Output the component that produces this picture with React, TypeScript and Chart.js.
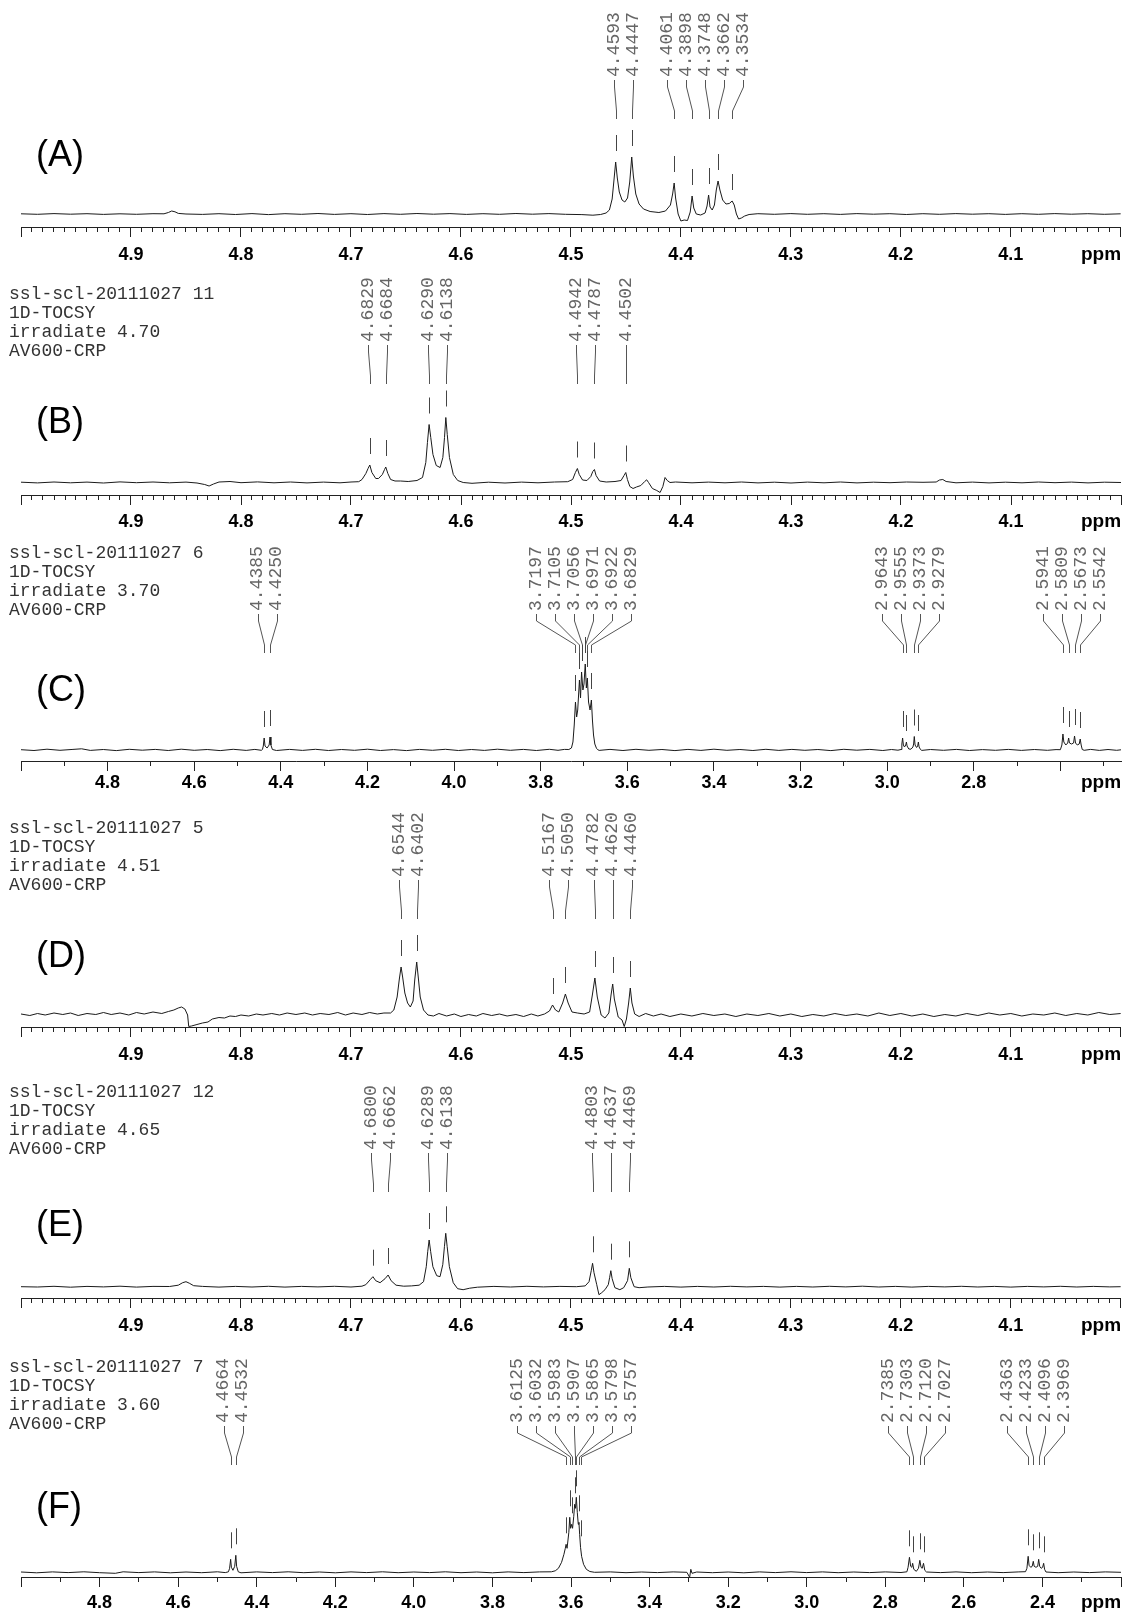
import React, { useEffect, useRef } from 'react';
import { Chart, registerables } from 'chart.js';
Chart.register(...registerables);

// ---------- DATA (ppm, intensity) ----------
const specA = [
  5.0,0.2, 4.985,-0.3, 4.97,0.4, 4.955,-0.2, 4.94,0.3, 4.925,-0.4, 4.91,0.2, 4.895,-0.3, 4.88,0.3, 4.87,0.2,
  4.866,1.5, 4.863,3, 4.86,2.2, 4.857,0.6, 4.85,0, 4.835,-0.4, 4.82,0.3, 4.805,-0.5, 4.79,0.4, 4.775,-0.6,
  4.76,0.3, 4.745,-0.3, 4.73,0.5, 4.715,-0.4, 4.7,0.3, 4.685,-0.5, 4.67,0.4, 4.655,-0.3, 4.64,0.5, 4.625,-0.2,
  4.61,0.4, 4.595,-0.4, 4.58,0.3, 4.565,-0.3, 4.55,0.5, 4.535,-0.2, 4.52,0.4, 4.505,-0.3, 4.49,-0.6, 4.48,-1.2,
  4.473,-0.5, 4.468,1, 4.465,4, 4.4625,15, 4.461,32, 4.4593,52, 4.4578,36, 4.456,22, 4.4535,14, 4.451,12,
  4.4485,16, 4.4465,32, 4.4447,57, 4.4432,38, 4.441,20, 4.438,10, 4.434,5, 4.428,2.5, 4.42,1.5, 4.414,3,
  4.4095,9, 4.4075,20, 4.4061,31, 4.4048,16, 4.4025,0, 4.4,-7, 4.397,-6, 4.394,-6.5, 4.3915,2, 4.3898,18,
  4.3883,6, 4.386,0, 4.382,-1, 4.378,1, 4.3762,8, 4.3748,19, 4.3735,7, 4.3715,4, 4.3695,9, 4.3678,24,
  4.3662,33, 4.3645,24, 4.362,14, 4.359,10, 4.356,10.5, 4.3534,13, 4.3515,9, 4.3495,0, 4.3475,-5, 4.345,-4,
  4.342,-2, 4.338,-0.5, 4.33,0.3, 4.315,-0.3, 4.3,0.4, 4.285,-0.3, 4.27,0.3, 4.255,-0.4, 4.24,0.4, 4.225,-0.2,
  4.21,0.3, 4.195,-0.5, 4.18,0.3, 4.165,-0.3, 4.15,0.4, 4.135,-0.2, 4.12,0.3, 4.105,-0.4, 4.09,0.3, 4.075,-0.3,
  4.06,0.4, 4.045,-0.2, 4.03,0.3, 4.015,-0.3, 4.0,0.2,
];
const peaksA = [4.4593, 4.4447, 4.4061, 4.3898, 4.3748, 4.3662, 4.3534];

const specB = [
  5.0,0.3, 4.985,-0.4, 4.97,0.5, 4.955,-0.3, 4.94,0.4, 4.925,-0.5, 4.91,0.6, 4.895,-0.2, 4.88,0.5, 4.865,-0.3,
  4.85,0.4, 4.84,-0.5, 4.833,-2, 4.829,-3.5, 4.825,-1.5, 4.82,0.5, 4.81,1, 4.8,-0.2, 4.785,0.6, 4.77,-0.3,
  4.755,0.5, 4.74,-0.4, 4.725,0.4, 4.71,-0.3, 4.7,0.5, 4.693,0.8, 4.69,3, 4.6865,9, 4.6845,14, 4.6829,17.5,
  4.681,10, 4.6775,4, 4.675,4, 4.6715,8, 4.6695,13, 4.6684,15.5, 4.6665,9, 4.664,3, 4.66,1.5, 4.655,1.5,
  4.648,1, 4.64,2, 4.635,5, 4.632,20, 4.6305,40, 4.629,58, 4.6275,45, 4.6255,28, 4.6225,17, 4.619,15,
  4.6165,25, 4.615,45, 4.6138,65, 4.6125,48, 4.6105,25, 4.607,8, 4.603,2, 4.598,0, 4.59,-0.8, 4.575,0.3,
  4.56,-0.5, 4.545,0.4, 4.53,-0.3, 4.515,0.5, 4.503,0.8, 4.4985,3, 4.496,10, 4.4942,14, 4.4925,8, 4.4895,2.5,
  4.4855,2, 4.482,6, 4.4802,11, 4.4787,13, 4.4772,7, 4.474,1.5, 4.468,0.5, 4.46,1, 4.4545,2, 4.4518,7,
  4.4502,10, 4.4487,3, 4.4465,-4, 4.4436,-6, 4.4405,-4.5, 4.4365,-3, 4.433,1, 4.4312,2.7, 4.4295,0, 4.426,-6,
  4.422,-8, 4.419,-10, 4.4165,-4, 4.4145,5, 4.4125,2, 4.41,0, 4.405,0.5, 4.39,-0.3, 4.375,0.4, 4.36,-0.3,
  4.345,0.5, 4.33,-0.4, 4.315,0.3, 4.3,-0.5, 4.285,0.4, 4.27,-0.3, 4.255,0.5, 4.24,-0.4, 4.225,0.3, 4.21,-0.2,
  4.195,0.5, 4.18,0.2, 4.168,0.5, 4.165,2.5, 4.162,3, 4.159,1, 4.15,-0.3, 4.135,0.4, 4.12,-0.4, 4.105,0.3,
  4.09,-0.3, 4.075,0.5, 4.06,-0.2, 4.045,0.4, 4.03,-0.4, 4.015,0.3, 4.0,0,
];
const peaksB = [4.6829, 4.6684, 4.6290, 4.6138, 4.4942, 4.4787, 4.4502];

const specC = [
  5.0,0.3, 4.97,-0.5, 4.94,0.8, 4.91,-0.3, 4.88,0.6, 4.86,1.2, 4.84,-0.4, 4.81,0.5, 4.78,-0.6, 4.75,0.7,
  4.72,-0.2, 4.69,0.6, 4.66,-0.5, 4.63,0.8, 4.6,-0.3, 4.57,0.5, 4.54,-0.6, 4.51,0.7, 4.48,-0.4, 4.46,0.6,
  4.445,-0.3, 4.4425,0.5, 4.4405,4, 4.4385,12, 4.4365,4, 4.4318,2, 4.427,5, 4.425,13, 4.423,5, 4.4195,0.5,
  4.41,-0.5, 4.38,0.6, 4.35,-0.4, 4.32,0.7, 4.29,-0.5, 4.26,0.5, 4.23,-0.3, 4.2,0.8, 4.17,-0.5, 4.14,0.4,
  4.11,-0.6, 4.08,0.6, 4.05,-0.3, 4.02,0.7, 3.99,-0.5, 3.96,0.5, 3.93,-0.4, 3.9,0.8, 3.87,-0.3, 3.84,0.6,
  3.81,-0.5, 3.78,0.7, 3.76,-0.3, 3.745,0.6, 3.735,0.5, 3.729,2, 3.7255,8, 3.7225,25, 3.7197,48, 3.717,33,
  3.7145,40, 3.7105,70, 3.708,52, 3.7056,78, 3.7025,60, 3.7,66, 3.6971,86, 3.6945,62, 3.6922,72, 3.6895,48,
  3.686,40, 3.6829,50, 3.6805,30, 3.678,15, 3.675,6, 3.671,1.5, 3.668,0.3,
  3.665,-0.4, 3.64,0.6, 3.61,-0.5, 3.58,0.7, 3.55,-0.3, 3.52,0.5, 3.49,-0.6, 3.46,0.6, 3.43,-0.4, 3.4,0.8,
  3.37,-0.3, 3.34,0.5, 3.31,-0.5, 3.28,0.7, 3.25,-0.4, 3.22,0.6, 3.19,-0.3, 3.16,0.5, 3.13,-0.6, 3.1,0.7,
  3.07,-0.2, 3.04,0.6, 3.01,-0.5, 2.99,0.5, 2.975,-0.2, 2.968,0.5, 2.966,6, 2.9643,12, 2.9625,5, 2.96,3,
  2.957,5, 2.9555,8, 2.954,4, 2.95,1, 2.945,0.8, 2.9405,3, 2.9388,6, 2.9373,13.5, 2.9355,5, 2.932,2.5,
  2.9295,4, 2.9279,8, 2.9262,3, 2.923,0.5, 2.92,-0.4, 2.9,0.5, 2.87,-0.3, 2.84,0.6, 2.81,-0.5, 2.78,0.4,
  2.75,-0.3, 2.72,0.6, 2.69,-0.4, 2.66,0.5, 2.63,-0.3, 2.61,0.4, 2.6,0.3, 2.5965,5, 2.5941,16, 2.592,8,
  2.5875,5, 2.583,7, 2.5809,12, 2.579,7, 2.5741,6, 2.5695,7, 2.5673,14, 2.565,7, 2.5608,5, 2.5565,6,
  2.5542,11, 2.552,5, 2.5495,0.5, 2.545,-0.3, 2.53,0.6, 2.51,-0.4, 2.49,0.5, 2.47,-0.3, 2.46,0.2,
];
const peaksC = [4.4385, 4.4250, 3.7197, 3.7105, 3.7056, 3.6971, 3.6922, 3.6829, 2.9643, 2.9555, 2.9373, 2.9279, 2.5941, 2.5809, 2.5673, 2.5542];

const specD = [
  5.0,1, 4.992,-0.5, 4.985,1.5, 4.978,0, 4.97,2, 4.962,0.5, 4.955,2, 4.948,-0.5, 4.94,1.5, 4.932,0.5,
  4.925,2.5, 4.918,0.5, 4.91,2, 4.902,0, 4.895,2.5, 4.888,1, 4.88,3, 4.872,1.5, 4.866,3.5, 4.861,5,
  4.857,7, 4.854,8, 4.851,6, 4.8485,0, 4.8475,-11.5, 4.845,-11, 4.84,-9.5, 4.835,-8, 4.83,-7, 4.826,-4,
  4.82,-2.5, 4.815,-3, 4.81,-1, 4.805,-1.5, 4.8,0, 4.793,-1, 4.786,1, 4.78,0, 4.772,1.5, 4.765,0,
  4.758,2, 4.75,0.5, 4.742,2, 4.735,0, 4.728,1.5, 4.72,0.5, 4.712,2.5, 4.705,0, 4.698,2, 4.69,0.5,
  4.683,2.5, 4.676,1, 4.67,2, 4.664,2, 4.661,5, 4.658,18, 4.656,36, 4.6544,48, 4.653,38, 4.651,22,
  4.6485,12, 4.646,8, 4.6435,14, 4.642,35, 4.6402,53, 4.6388,38, 4.637,18, 4.634,5, 4.63,0, 4.625,-1,
  4.62,1.5, 4.613,-1, 4.606,1, 4.6,-1.5, 4.593,0.5, 4.586,-1, 4.58,1.5, 4.572,-0.5, 4.565,1, 4.558,-1,
  4.55,0.5, 4.543,-1.5, 4.536,1, 4.53,-1, 4.524,1, 4.5195,4, 4.5167,10, 4.514,5, 4.511,3, 4.5075,12,
  4.505,21, 4.5025,12, 4.499,3, 4.494,2, 4.488,1, 4.483,3, 4.4805,20, 4.4782,37, 4.476,18, 4.4725,0,
  4.469,-3, 4.4655,2, 4.4635,20, 4.462,31, 4.4605,16, 4.457,-2, 4.4535,-5, 4.4515,-11.5, 4.4495,-4, 4.4475,12,
  4.446,27, 4.4445,12, 4.442,1, 4.438,-1.5, 4.432,1.5, 4.425,-1, 4.418,1, 4.41,-1.5, 4.4,1, 4.39,-1,
  4.38,1.5, 4.37,-0.5, 4.36,1, 4.35,-1.5, 4.34,1, 4.33,-0.5, 4.32,1.5, 4.31,-1, 4.3,1, 4.29,-1.5,
  4.28,0.5, 4.27,-1, 4.26,1.5, 4.25,-0.5, 4.24,1, 4.23,-1, 4.22,2, 4.21,-0.5, 4.2,1.5, 4.19,-1,
  4.18,1, 4.17,-1.5, 4.16,0.5, 4.15,-1, 4.14,1.5, 4.13,-0.5, 4.12,2, 4.11,0, 4.1,1.5, 4.09,-1,
  4.08,1, 4.07,0, 4.06,2, 4.05,-0.5, 4.04,1.5, 4.03,0, 4.02,2.5, 4.01,0.5, 4.0,1.5,
];
const peaksD = [4.6544, 4.6402, 4.5167, 4.5050, 4.4782, 4.4620, 4.4460];

const specE = [
  5.0,0, 4.985,-0.3, 4.97,0.4, 4.955,-0.5, 4.94,0.3, 4.925,-0.2, 4.91,0.5, 4.895,-0.4, 4.88,0.3, 4.865,0.2,
  4.857,1.5, 4.853,4, 4.85,5, 4.847,3.5, 4.843,1, 4.835,0.3, 4.82,-0.4, 4.805,0.3, 4.79,-0.3, 4.775,0.4,
  4.76,-0.4, 4.745,0.3, 4.73,-0.2, 4.715,0.4, 4.7,-0.3, 4.69,0.5, 4.6865,2, 4.6825,7, 4.68,10, 4.6775,6,
  4.6735,4, 4.669,8, 4.6662,11.7, 4.6635,6, 4.659,1.5, 4.652,0.5, 4.645,0.8, 4.638,1.5, 4.634,5, 4.6315,20,
  4.6302,35, 4.6289,46.7, 4.6275,35, 4.6255,20, 4.622,11, 4.619,10, 4.6165,22, 4.615,40, 4.6138,53.4, 4.6125,40,
  4.6105,20, 4.607,4, 4.603,-2, 4.598,-3, 4.592,-1.5, 4.585,-0.5, 4.57,0.3, 4.555,-0.3, 4.54,0.4, 4.525,-0.2,
  4.51,0.3, 4.495,0, 4.487,0.8, 4.4835,5, 4.4815,16, 4.4803,23.4, 4.479,14, 4.4765,2, 4.4745,-8, 4.472,-6,
  4.469,-3, 4.466,2, 4.4648,9, 4.4637,16, 4.4625,8, 4.46,-1, 4.4555,-3, 4.452,-1, 4.4485,6, 4.4469,18.4,
  4.4455,9, 4.4425,0, 4.438,-1, 4.43,-0.3, 4.415,0.3, 4.4,-0.4, 4.385,0.3, 4.37,-0.3, 4.355,0.4, 4.34,-0.2,
  4.325,0.3, 4.31,-0.4, 4.295,0.3, 4.28,-0.3, 4.265,0.4, 4.25,-0.2, 4.235,0.5, 4.22,-0.3, 4.205,0.3, 4.19,-0.4,
  4.175,0.3, 4.16,-0.2, 4.145,0.4, 4.13,-0.3, 4.115,0.3, 4.1,-0.4, 4.085,0.3, 4.07,-0.2, 4.055,0.4, 4.04,-0.3,
  4.025,0.3, 4.01,-0.2, 4.0,0,
];
const peaksE = [4.6800, 4.6662, 4.6289, 4.6138, 4.4803, 4.4637, 4.4469];

const specF = [
  5.0,0.3, 4.96,-0.5, 4.92,0.4, 4.88,-0.3, 4.84,0.5, 4.8,-0.4, 4.76,-1, 4.74,0.5, 4.7,-0.3, 4.66,0.4,
  4.62,-0.5, 4.58,0.3, 4.54,-0.4, 4.5,0.5, 4.48,-0.3, 4.472,0.5, 4.469,4, 4.4664,13, 4.4645,5, 4.4605,2,
  4.456,6, 4.4532,17, 4.4512,6, 4.447,0.5, 4.44,-0.5, 4.4,0.4, 4.36,-0.3, 4.32,0.5, 4.28,-0.4, 4.24,0.3,
  4.2,-0.5, 4.16,0.4, 4.12,-0.3, 4.08,0.5, 4.04,-0.4, 4.0,0.3, 3.96,-0.3, 3.92,0.5, 3.88,-0.4, 3.84,0.3,
  3.8,-0.5, 3.76,0.4, 3.72,-0.3, 3.68,0.4, 3.65,0.5, 3.64,1.5, 3.632,4, 3.624,10, 3.618,18, 3.6145,24,
  3.6125,28, 3.61,24, 3.6055,40, 3.6032,55, 3.601,44, 3.5983,48, 3.596,44, 3.593,56, 3.5907,68, 3.5885,64,
  3.5865,75, 3.584,60, 3.5815,48, 3.5798,50, 3.578,38, 3.5757,25, 3.573,16, 3.568,8, 3.561,3, 3.552,0.8,
  3.54,0, 3.5,0.4, 3.46,-0.4, 3.42,0.3, 3.38,-0.3, 3.34,0.4, 3.305,0, 3.298,-5, 3.295,3, 3.292,-1,
  3.28,0.3, 3.24,-0.4, 3.2,0.3, 3.16,-0.5, 3.12,0.4, 3.08,-0.3, 3.04,0.5, 3.0,-0.3, 2.96,0.4, 2.92,-0.4,
  2.88,0.3, 2.84,-0.3, 2.8,0.4, 2.76,-0.2, 2.745,0.5, 2.742,5, 2.7385,15, 2.7355,6, 2.7325,5, 2.7303,9,
  2.7275,3, 2.721,1, 2.7155,4, 2.712,12, 2.709,5, 2.706,4, 2.7027,9, 2.6995,2, 2.695,0.3, 2.66,-0.3,
  2.62,0.4, 2.58,-0.4, 2.54,0.3, 2.5,-0.3, 2.46,0.4, 2.443,0.6, 2.4395,4, 2.4363,16, 2.434,7, 2.4298,5,
  2.426,6, 2.4233,11, 2.421,6, 2.4165,5, 2.412,6, 2.4096,13, 2.407,6, 2.4032,4, 2.3995,5, 2.3969,9,
  2.3945,3, 2.391,0.3, 2.36,-0.4, 2.32,0.3, 2.28,-0.3, 2.24,0.4, 2.2,0,
];
const peaksF = [4.4664, 4.4532, 3.6125, 3.6032, 3.5983, 3.5907, 3.5865, 3.5798, 3.5757, 2.7385, 2.7303, 2.7120, 2.7027, 2.4363, 2.4233, 2.4096, 2.3969];

const infoB = ['ssl-scl-20111027 11', '1D-TOCSY', 'irradiate 4.70', 'AV600-CRP'];
const infoC = ['ssl-scl-20111027 6', '1D-TOCSY', 'irradiate 3.70', 'AV600-CRP'];
const infoD = ['ssl-scl-20111027 5', '1D-TOCSY', 'irradiate 4.51', 'AV600-CRP'];
const infoE = ['ssl-scl-20111027 12', '1D-TOCSY', 'irradiate 4.65', 'AV600-CRP'];
const infoF = ['ssl-scl-20111027 7', '1D-TOCSY', 'irradiate 3.60', 'AV600-CRP'];

// ---------- tick rules ----------
const narrowMajor = (v: number) => Math.round(v * 100) % 10 === 0;
const narrowLabel = (v: number) => {
  const k = Math.round(v * 100);
  return k % 10 === 0 && k !== 400 && k !== 500 ? (k / 100).toFixed(1) : '';
};
const wideMajor = (v: number) => Math.round(v * 10) % 2 === 0;
const wideLabel = (skip: number[]) => (v: number) => {
  const k = Math.round(v * 10);
  return k % 2 === 0 && !skip.includes(k) ? (k / 10).toFixed(1) : '';
};

// ---------- layout ----------
const panels = [
  { letter: '(A)', spec: specA, peaks: peaksA, info: null, min: 4.0, max: 5.0, step: 0.01, isMajor: narrowMajor, label: narrowLabel,
    top: 0, height: 268, axisY: 227, baseY: 214, labelBottom: 77, letterY: 156, infoY: 0, tickCenter: 255 },
  { letter: '(B)', spec: specB, peaks: peaksB, info: infoB, min: 4.0, max: 5.0, step: 0.01, isMajor: narrowMajor, label: narrowLabel,
    top: 268, height: 268, axisY: 495, baseY: 482.5, labelBottom: 342, letterY: 423, infoY: 294, tickCenter: 522 },
  { letter: '(C)', spec: specC, peaks: peaksC, info: infoC, min: 2.46, max: 5.0, step: 0.1, isMajor: wideMajor, label: wideLabel([50, 26]),
    top: 536, height: 266, axisY: 761, baseY: 750, labelBottom: 611, letterY: 691, infoY: 553, tickCenter: 783 },
  { letter: '(D)', spec: specD, peaks: peaksD, info: infoD, min: 4.0, max: 5.0, step: 0.01, isMajor: narrowMajor, label: narrowLabel,
    top: 802, height: 266, axisY: 1027, baseY: 1015, labelBottom: 877, letterY: 957, infoY: 828, tickCenter: 1055 },
  { letter: '(E)', spec: specE, peaks: peaksE, info: infoE, min: 4.0, max: 5.0, step: 0.01, isMajor: narrowMajor, label: narrowLabel,
    top: 1068, height: 272, axisY: 1298, baseY: 1286.7, labelBottom: 1150, letterY: 1226, infoY: 1092, tickCenter: 1326 },
  { letter: '(F)', spec: specF, peaks: peaksF, info: infoF, min: 2.2, max: 5.0, step: 0.1, isMajor: wideMajor, label: wideLabel([50, 22]),
    top: 1340, height: 278, axisY: 1577, baseY: 1572.3, labelBottom: 1423, letterY: 1508, infoY: 1367, tickCenter: 1603 },
];

const toPts = (flat: number[]) => {
  const out: { x: number; y: number }[] = [];
  for (let i = 0; i < flat.length; i += 2) out.push({ x: flat[i], y: flat[i + 1] });
  return out;
};

const LABEL_GAP = 19;
const TICK_LEN = 10;

function makeAnnot(p: any) {
  return {
    id: 'nmrAnnot',
    afterDraw(chart: any) {
      const { ctx } = chart;
      const xs = chart.scales.x;
      const ys = chart.scales.y;
      const T = p.top;
      const pts = chart.data.datasets[0].data as { x: number; y: number }[];
      ctx.save();
      // panel letter
      ctx.fillStyle = '#000';
      ctx.font = '36px "Liberation Sans", Arial, sans-serif';
      ctx.textAlign = 'left';
      ctx.textBaseline = 'middle';
      ctx.fillText(p.letter, 36, p.letterY - T);
      // info block
      if (p.info) {
        ctx.fillStyle = '#333';
        ctx.font = '18px "Liberation Mono", monospace';
        p.info.forEach((s: string, i: number) => ctx.fillText(s, 9, p.infoY - T + i * 19));
      }
      // ppm
      ctx.fillStyle = '#000';
      ctx.font = 'bold 19px "Liberation Sans", Arial, sans-serif';
      ctx.textAlign = 'center';
      ctx.fillText('ppm', 1101, p.tickCenter - T);

      // peak labels with spreading
      const items = p.peaks
        .map((v: number) => {
          let apex = 0;
          pts.forEach((q) => { if (Math.abs(q.x - v) < 0.0008 && q.y > apex) apex = q.y; });
          return { v, px: xs.getPixelForValue(v), apex, lx: 0 };
        })
        .sort((a: any, b: any) => a.px - b.px);
      let groups = items.map((it: any) => ({ m: [it], c: it.px }));
      let changed = true;
      while (changed) {
        changed = false;
        for (let i = 0; i < groups.length - 1; i++) {
          const g = groups[i], h = groups[i + 1];
          const gR = g.c + ((g.m.length - 1) / 2) * LABEL_GAP;
          const hL = h.c - ((h.m.length - 1) / 2) * LABEL_GAP;
          if (hL - gR < LABEL_GAP - 0.01) {
            const m = g.m.concat(h.m);
            const c = m.reduce((s: number, q: any) => s + q.px, 0) / m.length;
            groups.splice(i, 2, { m, c });
            changed = true;
            break;
          }
        }
      }
      groups.forEach((g: any) => g.m.forEach((q: any, k: number) => { q.lx = g.c + (k - (g.m.length - 1) / 2) * LABEL_GAP; }));

      const Lb = p.labelBottom - T;
      items.forEach((q: any) => {
        ctx.save();
        ctx.fillStyle = '#666';
        ctx.font = '18px "Liberation Mono", monospace';
        ctx.translate(q.lx, Lb);
        ctx.rotate(-Math.PI / 2);
        ctx.textAlign = 'left';
        ctx.textBaseline = 'middle';
        ctx.fillText(q.v.toFixed(4), 0, 0);
        ctx.restore();
        const lx = Math.round(q.lx) + 0.5;
        const px = Math.round(q.px) + 0.5;
        ctx.strokeStyle = '#555';
        ctx.lineWidth = 1;
        ctx.beginPath();
        ctx.moveTo(lx, Lb + 3);
        ctx.lineTo(lx, Lb + 10);
        ctx.lineTo(px, Lb + 34);
        ctx.lineTo(px, Lb + 42);
        ctx.stroke();
        const ay = ys.getPixelForValue(q.apex);
        ctx.strokeStyle = '#444';
        ctx.beginPath();
        ctx.moveTo(px, ay - 27);
        ctx.lineTo(px, ay - 11);
        ctx.stroke();
      });
      ctx.restore();
    },
  };
}

function Panel({ p }: { p: any }) {
  const ref = useRef<HTMLCanvasElement>(null);
  useEffect(() => {
    if (!ref.current) return;
    const areaH = p.axisY - p.top;
    const yMin = -(p.axisY - p.baseY);
    const chart = new Chart(ref.current, {
      type: 'line',
      data: {
        datasets: [{
          data: toPts(p.spec),
          borderColor: '#1a1a1a',
          borderWidth: 1,
          pointRadius: 0,
          tension: 0,
          fill: false,
        }],
      },
      options: {
        responsive: false,
        animation: false,
        devicePixelRatio: 1,
        events: [],
        layout: { padding: { left: 21, right: 7, top: 0, bottom: 0 }, autoPadding: false },
        plugins: { legend: { display: false }, tooltip: { enabled: false }, title: { display: false } },
        scales: {
          x: {
            type: 'linear',
            reverse: true,
            min: p.min,
            max: p.max,
            afterFit: (s: any) => { s.height = p.height - areaH; },
            border: { display: true, color: '#222', width: 1 },
            grid: {
              display: true,
              drawOnChartArea: false,
              drawTicks: true,
              tickLength: TICK_LEN,
              tickColor: '#222',
              tickWidth: 1,
              tickBorderDash: (c: any) => (c.tick && p.isMajor(c.tick.value) ? [] : [4, 40]),
            },
            ticks: {
              stepSize: p.step,
              autoSkip: false,
              includeBounds: false,
              maxTicksLimit: 1000,
              maxRotation: 0,
              minRotation: 0,
              padding: p.tickCenter - p.axisY - TICK_LEN - 10.8,
              color: '#000',
              font: { family: '"Liberation Sans", Arial, sans-serif', size: 18, weight: 'bold' },
              callback: (v: any) => p.label(Number(v)),
            },
          },
          y: { type: 'linear', display: false, min: yMin, max: yMin + areaH },
        },
      },
      plugins: [makeAnnot(p)],
    } as any);
    return () => chart.destroy();
  }, []);
  return (
    <canvas
      ref={ref}
      width={1128}
      height={p.height}
      style={{ position: 'absolute', left: 0, top: p.top, width: 1128, height: p.height }}
    />
  );
}

export default function App() {
  return (
    <div style={{ position: 'absolute', left: 0, top: 0, width: 1128, height: 1618, background: '#fff', overflow: 'hidden' }}>
      {panels.map((p, i) => <Panel key={i} p={p} />)}
    </div>
  );
}
